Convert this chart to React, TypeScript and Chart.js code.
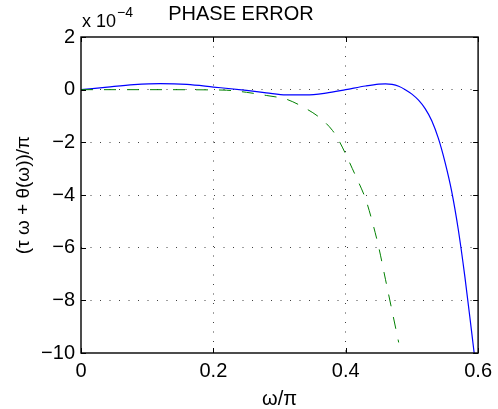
import React, { useEffect, useRef } from "react";
import { Chart, registerables } from "chart.js";

Chart.register(...registerables);

// ω/π samples and phase error (units of 1e-4) for the solid blue curve
const omegaBlue = [0, 0.04, 0.08, 0.12, 0.16, 0.2, 0.25, 0.28, 0.31, 0.34, 0.37, 0.4, 0.43, 0.45, 0.46, 0.47, 0.48, 0.49, 0.5, 0.51, 0.52, 0.53, 0.54, 0.55, 0.56, 0.57, 0.58, 0.59, 0.5945];
const errBlue = [0, 0.1, 0.19, 0.23, 0.2, 0.1, -0.03, -0.12, -0.2, -0.2, -0.13, 0.0, 0.14, 0.21, 0.22, 0.2, 0.13, 0.0, -0.17, -0.4, -0.72, -1.18, -1.85, -2.75, -3.85, -5.3, -7.1, -9.15, -10.1];

// dashed green curve
const omegaGreen = [0, 0.1, 0.2, 0.22, 0.25, 0.28, 0.3, 0.31, 0.32, 0.34, 0.36, 0.38, 0.39, 0.4, 0.41, 0.42, 0.43, 0.44, 0.45, 0.46, 0.47, 0.48];
const errGreen = [0, 0, -0.01, -0.02, -0.1, -0.22, -0.3, -0.36, -0.46, -0.72, -1.05, -1.55, -1.95, -2.45, -3.0, -3.55, -4.15, -5.0, -6.0, -7.2, -8.4, -9.6];

const xTickValues = [0, 0.2, 0.4, 0.6];
const xTickLabels = ["0", "0.2", "0.4", "0.6"];
const yTickValues = [2, 0, -2, -4, -6, -8, -10];
const yTickLabels = ["2", "0", "\u22122", "\u22124", "\u22126", "\u22128", "\u221210"];

const titleText = "PHASE ERROR";
const xTitle = "\u03c9/\u03c0";
const yTitle = "(\u03c4 \u03c9 + \u03b8(\u03c9))/\u03c0";
const exponentBase = "x 10";
const exponentPower = "\u22124";

const FONT = "'Liberation Sans', Arial, Helvetica, sans-serif";

const framePlugin = {
  id: "matlabFrame",
  afterDatasetsDraw(chart: any) {
    const { ctx, chartArea, scales } = chart;
    const { left, right, top, bottom } = chartArea;
    ctx.save();
    ctx.strokeStyle = "#000";
    ctx.lineWidth = 1;
    const tl = 5;
    ctx.beginPath();
    for (const v of xTickValues) {
      const px = Math.round(scales.x.getPixelForValue(v)) + 0.5;
      ctx.moveTo(px, bottom);
      ctx.lineTo(px, bottom - tl);
      ctx.moveTo(px, top);
      ctx.lineTo(px, top + tl);
    }
    for (const v of yTickValues) {
      const py = Math.round(scales.y.getPixelForValue(v)) + 0.5;
      ctx.moveTo(left, py);
      ctx.lineTo(left + tl, py);
      ctx.moveTo(right, py);
      ctx.lineTo(right - tl, py);
    }
    ctx.stroke();
    ctx.lineWidth = 1.4;
    ctx.strokeRect(left, top, right - left, bottom - top);
    // axis exponent
    ctx.fillStyle = "#000";
    ctx.textBaseline = "alphabetic";
    ctx.textAlign = "left";
    ctx.font = `18px ${FONT}`;
    ctx.fillText(exponentBase, left + 1, 27);
    const w = ctx.measureText(exponentBase).width;
    ctx.font = `14px ${FONT}`;
    ctx.fillText(exponentPower, left + 1 + w + 1, 17);
    ctx.restore();
  },
};

export default function App() {
  const canvasRef = useRef<HTMLCanvasElement | null>(null);

  useEffect(() => {
    if (!canvasRef.current) return;
    const gridColor = (edge: number[]) => (c: any) =>
      edge.includes(c.tick?.value) ? "rgba(0,0,0,0)" : "rgba(0,0,0,0.75)";
    const chart = new Chart(canvasRef.current, {
      type: "line",
      data: {
        datasets: [
          {
            label: "blue",
            data: omegaBlue.map((x, i) => ({ x, y: errBlue[i] })),
            borderColor: "#0000ff",
            borderWidth: 1.2,
            pointRadius: 0,
            cubicInterpolationMode: "monotone",
            fill: false,
            order: 1,
          },
          {
            label: "green",
            data: omegaGreen.map((x, i) => ({ x, y: errGreen[i] })),
            borderColor: "#008000",
            borderWidth: 1,
            borderDash: [12, 11],
            pointRadius: 0,
            cubicInterpolationMode: "monotone",
            fill: false,
            order: 0,
          },
        ],
      },
      options: {
        animation: false,
        responsive: true,
        maintainAspectRatio: false,
        layout: { padding: { top: 0, right: 16, bottom: 0, left: 0 } },
        plugins: {
          legend: { display: false },
          tooltip: { enabled: false },
          title: {
            display: true,
            text: titleText,
            color: "#000",
            font: { family: FONT, size: 20, weight: "normal", lineHeight: 1.2 },
            padding: { top: 2, bottom: 11 },
          },
        },
        scales: {
          x: {
            type: "linear",
            min: 0,
            max: 0.6,
            afterBuildTicks: (s: any) => {
              s.ticks = xTickValues.map((v) => ({ value: v }));
            },
            afterFit: (s: any) => {
              s.height = 56;
            },
            ticks: {
              color: "#000",
              font: { family: FONT, size: 20, lineHeight: 1.2 },
              padding: 6,
              maxRotation: 0,
              autoSkip: false,
              callback: (_v: any, i: number) => xTickLabels[i],
            },
            grid: { color: gridColor([0, 0.6]), lineWidth: 1, drawTicks: false },
            border: { display: false, dash: [1, 8.5] },
            title: {
              display: true,
              text: xTitle,
              color: "#000",
              font: { family: FONT, size: 20, lineHeight: 1 },
              padding: { top: 0, bottom: 0 },
            },
          },
          y: {
            type: "linear",
            min: -10,
            max: 2,
            afterBuildTicks: (s: any) => {
              s.ticks = yTickValues.map((v) => ({ value: v }));
            },
            afterFit: (s: any) => {
              s.width = 81;
            },
            ticks: {
              color: "#000",
              font: { family: FONT, size: 20, lineHeight: 1.2 },
              padding: 6,
              autoSkip: false,
              callback: (_v: any, i: number) => yTickLabels[i],
            },
            grid: { color: gridColor([2, -10]), lineWidth: 1, drawTicks: false },
            border: { display: false, dash: [1, 8.5] },
            title: {
              display: true,
              text: yTitle,
              color: "#000",
              font: { family: FONT, size: 19, lineHeight: 1.2 },
              padding: { top: 12, bottom: 0 },
            },
          },
        },
      },
      plugins: [framePlugin],
    } as any);
    return () => chart.destroy();
  }, []);

  return (
    <div style={{ position: "absolute", left: 0, top: 0, width: 498, height: 409, background: "#fff" }}>
      <canvas ref={canvasRef} />
    </div>
  );
}
